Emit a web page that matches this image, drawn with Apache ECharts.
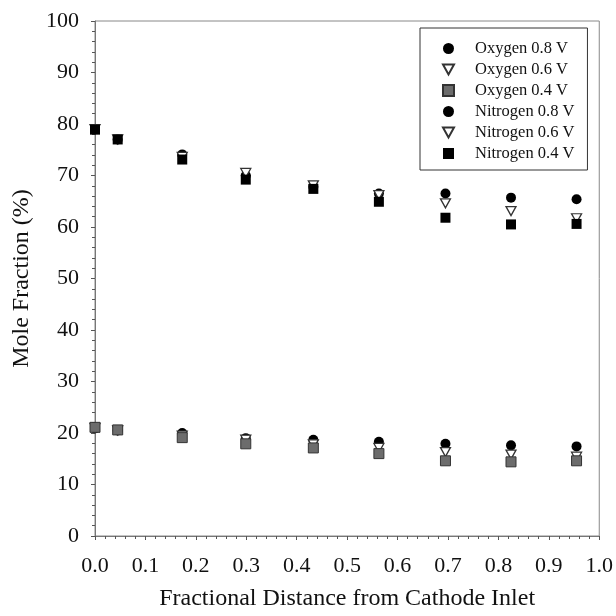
<!DOCTYPE html>
<html><head><meta charset="utf-8">
<script src="https://cdn.jsdelivr.net/npm/echarts@6/dist/echarts.min.js"></script>
<style>html,body{margin:0;padding:0;background:#fff}#c{width:616px;height:616px}</style>
</head><body><div id="c"></div>
<script>
const xPos = [0.0, 0.045, 0.173, 0.299, 0.433, 0.563, 0.695, 0.825, 0.955];
const oxygen08 = [20.9, 20.5, 20.0, 19.0, 18.7, 18.3, 17.9, 17.6, 17.4];
const oxygen06 = [21.0, 20.5, 19.5, 18.7, 17.8, 17.1, 16.3, 15.8, 15.4];
const oxygen04 = [21.1, 20.6, 19.1, 17.9, 17.1, 16.0, 14.6, 14.4, 14.6];
const nitrogen08 = [79.0, 77.0, 74.1, 70.0, 67.8, 66.5, 66.5, 65.7, 65.4];
const nitrogen06 = [79.0, 77.0, 73.6, 70.5, 68.1, 66.2, 64.6, 63.1, 61.7];
const nitrogen04 = [78.9, 77.0, 73.1, 69.2, 67.4, 64.9, 61.8, 60.5, 60.6];
const seriesNames = ['Oxygen 0.8 V','Oxygen 0.6 V','Oxygen 0.4 V','Nitrogen 0.8 V','Nitrogen 0.6 V','Nitrogen 0.4 V'];
const xTicks = [0,0.1,0.2,0.3,0.4,0.5,0.6,0.7,0.8,0.9,1.0];
const yTicks = [0,10,20,30,40,50,60,70,80,90,100];

const FONT = 'Liberation Serif';
const triDown = 'path://M0,0 L10,0 L5,9 Z';
function pts(v){ return xPos.map((x,i)=>[x,v[i]]); }
const styles = [
  {symbol:'circle', size:10, item:{color:'#000', opacity:1}},
  {symbol:triDown, size:[10,9], item:{color:'#fff', borderColor:'#333', borderWidth:1.3, opacity:1}},
  {symbol:'rect', size:10, item:{color:'#6c6c6c', borderColor:'#333', borderWidth:1, opacity:1}},
  {symbol:'circle', size:10, item:{color:'#000', opacity:1}},
  {symbol:triDown, size:[10,9], item:{color:'#fff', borderColor:'#333', borderWidth:1.3, opacity:1}},
  {symbol:'rect', size:10, item:{color:'#000', opacity:1}}
];
const dataSets = [oxygen08, oxygen06, oxygen04, nitrogen08, nitrogen06, nitrogen04];
const series = dataSets.map((d,i)=>({
  name: seriesNames[i], type:'scatter', data: pts(d),
  symbol: styles[i].symbol, symbolSize: styles[i].size,
  itemStyle: styles[i].item, z: 2+i
}));

const chart = echarts.init(document.getElementById('c'));
chart.setOption({
  animation:false,
  backgroundColor:'#fff',
  grid:{left:95, right:13, top:21, bottom:79, show:true, borderColor:'#888', borderWidth:1},
  legend:{
    orient:'vertical', left:420, top:28,
    data: seriesNames,
    backgroundColor:'#fff',
    borderColor:'#333', borderWidth:1,
    padding:[12,13,8,22],
    itemWidth:11, itemHeight:11, itemGap:4,
    textStyle:{fontFamily:FONT, fontSize:16.5, color:'#111', padding:[0,0,0,16]}
  },
  xAxis:{
    type:'value', min:0, max:1, interval:0.1,
    name:'Fractional Distance from Cathode Inlet', nameLocation:'middle', nameGap:51,
    nameTextStyle:{fontFamily:FONT, fontSize:24, color:'#111'},
    axisLine:{show:true, lineStyle:{color:'#777'}},
    axisTick:{show:true, length:4, lineStyle:{color:'#555'}},
    minorTick:{show:true, splitNumber:5, length:3, lineStyle:{color:'#555'}},
    splitLine:{show:false},
    axisLabel:{fontFamily:FONT, fontSize:22, color:'#111', margin:19,
      formatter:v=>v.toFixed(1)}
  },
  yAxis:{
    type:'value', min:0, max:100, interval:10,
    name:'Mole Fraction (%)', nameLocation:'middle', nameGap:61, nameRotate:90,
    nameTextStyle:{fontFamily:FONT, fontSize:24, color:'#111'},
    axisLine:{show:true, lineStyle:{color:'#777'}},
    axisTick:{show:true, length:4, lineStyle:{color:'#555'}},
    minorTick:{show:true, splitNumber:5, length:3, lineStyle:{color:'#555'}},
    splitLine:{show:false},
    axisLabel:{fontFamily:FONT, fontSize:22, color:'#111', margin:16}
  },
  series: series
});
</script></body></html>
